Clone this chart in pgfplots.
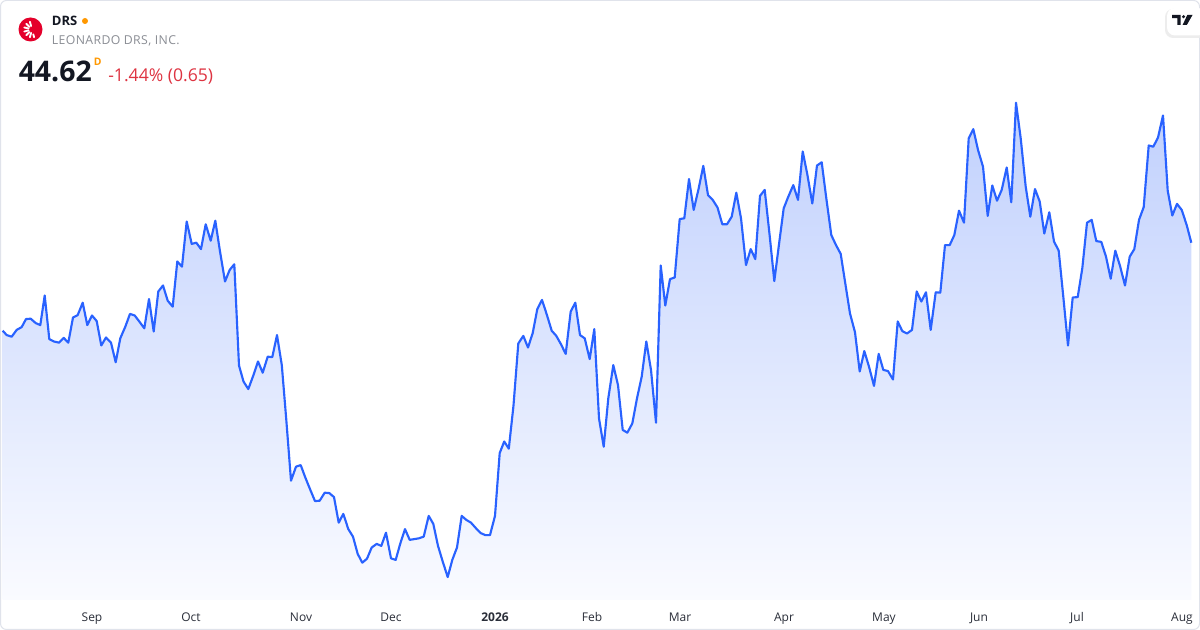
\documentclass[border=0pt]{standalone}
\usepackage{pgfplots}
\pgfplotsset{compat=1.18}
\usepackage{pgfplotstable}
\usetikzlibrary{calc}
\usepackage{fontspec}
\setmainfont{Open Sans}
\definecolor{tvblue}{HTML}{2962FF}
\definecolor{filltop}{RGB}{192,208,253}
\definecolor{fillbot}{RGB}{250,251,255}
\definecolor{bordercol}{HTML}{E0E3EB}
\definecolor{lbl}{HTML}{2A2E39}
\definecolor{subgray}{HTML}{8A8D94}
\definecolor{tvred}{HTML}{DE3341}
\definecolor{tvorange}{HTML}{FF9800}
\definecolor{logored}{HTML}{E4002B}
\definecolor{tvdark}{HTML}{131722}

\pgfplotstableread{
x p
2.7 35.69
2.7 42.42
6.7 42.31
11.7 42.27
16.7 42.44
21.7 42.51
26 42.71
30.7 42.72
35.7 42.61
40.3 42.56
44.7 43.30
49.3 42.21
54 42.15
59 42.12
63.7 42.24
68.3 42.12
73 42.75
77.7 42.81
82.7 43.12
87.3 42.56
92 42.80
96.7 42.66
101.3 42.05
106 42.25
111 42.12
115.7 41.63
120.3 42.23
125.3 42.52
130 42.84
134.7 42.80
139.3 42.65
144.3 42.48
149 43.21
153.7 42.40
158.3 43.40
163 43.55
167.7 43.17
172.7 43.02
177.3 44.15
182 44.02
186.7 45.15
191.7 44.59
196.3 44.62
201 44.46
205.7 45.08
210.7 44.67
215.3 45.17
220 44.40
225 43.65
229.7 43.94
234.3 44.08
239 41.55
243.5 41.15
248.3 40.96
253.3 41.30
258 41.65
262.7 41.37
267.7 41.77
272.3 41.76
277 42.31
281.8 41.56
286.3 40.19
291 38.67
296 39.02
300.7 39.06
305.3 38.75
310 38.46
315 38.16
319.7 38.17
324.7 38.37
329.3 38.36
334 38.26
338.7 37.62
343.3 37.84
348.3 37.46
353 37.27
357.7 36.84
362.3 36.62
367 36.72
371.7 37.00
376.7 37.09
381.3 37.04
386 37.37
391 36.73
395.7 36.69
400.3 37.10
405 37.46
409.7 37.19
414.3 37.21
419 37.23
423.7 37.27
428.7 37.79
433.3 37.59
438 37.04
442.7 36.65
447.7 36.26
452.3 36.69
457 37.00
461.7 37.79
466.3 37.69
471 37.62
476 37.48
480.7 37.36
485.3 37.31
490 37.31
495 37.79
499.7 39.36
504.2 39.65
508.8 39.47
513.5 40.55
518.3 42.10
523.3 42.29
528 42.00
532.7 42.36
537.3 42.96
542 43.19
546.7 42.83
551.7 42.42
556.3 42.29
561 42.08
565.7 41.84
570.7 42.90
575.3 43.12
580 42.31
584.7 42.23
589.7 41.71
594.3 42.46
599 40.23
603.7 39.52
608.3 40.73
613.3 41.56
618 41.06
622.7 39.94
627.3 39.87
632.3 40.10
637 40.73
641.7 41.27
646.3 42.15
651 41.44
656 40.12
660.7 44.05
665.3 43.05
670 43.71
674.7 43.75
679.7 45.21
684.3 45.23
689 46.21
693.7 45.44
698.7 45.98
703.3 46.54
708 45.81
712.7 45.69
717.5 45.50
722.3 45.08
727 45.08
731.7 45.27
736.3 45.87
741 45.23
746 44.06
750.7 44.46
755.3 44.21
760 45.79
764.7 45.94
769.7 44.79
774.3 43.66
779 44.58
783.7 45.48
788.3 45.77
793.3 46.06
798 45.69
802.7 46.90
807.3 46.33
812.3 45.60
817 46.55
821.7 46.63
826.3 45.73
831.3 44.81
836 44.56
840.7 44.34
845.3 43.60
850 42.85
855 42.38
859.7 41.40
864.3 41.91
869 41.52
874 41.04
878.7 41.84
883.3 41.44
888 41.41
893 41.20
897.7 42.65
902.3 42.41
907 42.35
912 42.44
916.7 43.40
921.3 43.15
926 43.38
930.7 42.44
935.7 43.38
940.3 43.37
945 44.56
949.7 44.56
954.3 44.81
959 45.42
964 45.12
968.7 47.23
973.3 47.46
978 46.94
983 46.52
987.7 45.29
992.3 46.05
997 45.67
1001.7 45.94
1006.7 46.50
1011.3 45.63
1016 48.12
1020.7 47.23
1025.7 46.02
1030.3 45.27
1035 45.96
1039.7 45.65
1044.3 44.85
1049.3 45.38
1054 44.65
1058.7 44.42
1063.3 43.27
1068 42.05
1072.7 43.25
1077.7 43.26
1082.3 43.98
1087 45.12
1091.7 45.19
1096.3 44.66
1101.3 44.64
1106 44.27
1110.7 43.72
1115.3 44.42
1120 44.04
1125 43.55
1129.7 44.27
1134.3 44.46
1139 45.19
1143.7 45.51
1148.7 47.05
1153.3 47.02
1158 47.25
1163 47.80
1167.7 45.92
1172.3 45.30
1177 45.59
1181.7 45.44
1186.7 45.06
1191.3 44.62
1191.3 35.69
}\pricedata

\begin{document}
\begin{tikzpicture}
\path[use as bounding box] (0pt,0pt) rectangle (900pt,472.5pt);
\fill[white] (0pt,0pt) rectangle (900pt,472.5pt);
\begin{axis}[
  at={(0pt,22.5pt)}, anchor=south west,
  scale only axis, width=900pt, height=450pt,
  xmin=0, xmax=1200, ymin=35.6875, ymax=50.6875,
  axis line style={draw=none},
  ytick=\empty,
  xtick={92,191,301,391,495,592,680,784,884,979,1077,1182},
  xticklabels={Sep,Oct,Nov,Dec,\textbf{2026},Feb,Mar,Apr,May,Jun,Jul,Aug},
  major tick length=0pt,
  xticklabel style={anchor=base, yshift=-15.9pt, font=\fontsize{9}{10}\selectfont, text=lbl},
]
\addplot[draw=none, top color=filltop, bottom color=fillbot] table[x=x,y=p]{\pricedata};
\addplot[tvblue, line width=1.6pt, line join=round, mark=none, unbounded coords=discard,
  y filter/.expression={y<36 ? nan : y}] table[x=x,y=p]{\pricedata};
\end{axis}
\begin{scope}[x=0.75pt, y=-0.75pt, shift={(0pt,472.5pt)}]
  \draw[bordercol, line width=0.75pt, rounded corners=4.5pt] (0.5,0.5) rectangle (1199.5,629.5);
  % logo
  \fill[logored] (30.5,29.5) circle (12);
  \foreach \a in {105,135,165,195,225,255} {
    \draw[white, line width=1.4pt, line cap=round] ($(32,29.5)+(\a:3.5)$) -- ($(32,29.5)+(\a:8)$);
  }
  \draw[white, line width=1.4pt, line cap=round] ($(32,29.5)+(75:5)$) -- ($(32,29.5)+(75:8)$);
  \node[anchor=base west, inner sep=0pt, font=\bfseries\fontsize{9.75}{11}\selectfont, text=tvdark] at (51.7,26) {DRS};
  \fill[tvorange] (85,21) circle (3);
  \node[anchor=base west, inner sep=0pt, font=\fontsize{9.2}{11}\selectfont\addfontfeature{LetterSpace=3}, text=subgray] at (51.7,45) {LEONARDO DRS, INC.};
  \node[anchor=base west, inner sep=0pt, font=\bfseries\fontsize{21.3}{23}\selectfont, text=tvdark] at (18.5,81.5) {44.62};
  \node[anchor=base west, inner sep=0pt, font=\bfseries\fontsize{7.8}{8}\selectfont, text=tvorange] at (93.5,65.5) {D};
  \node[anchor=base west, inner sep=0pt, font=\fontsize{13.2}{15}\selectfont, text=tvred] at (108,81.5) {-1.44\% (0.65)};
  % TV logo box
  \fill[black!7, rounded corners=6pt] (1165,9) rectangle (1206,38);
  \fill[white, rounded corners=6pt] (1167,8) rectangle (1206,35.5);
  \fill[tvdark] (1172,15) -- (1180.5,15) -- (1180.5,25) -- (1177.3,25) -- (1177.3,18.2) -- (1172,18.2) -- cycle;
  \fill[tvdark] (1183.6,16.7) circle (1.7);
  \fill[tvdark] (1187.3,15) -- (1192.5,15) -- (1186.8,25) -- (1182.6,25) -- cycle;
\end{scope}
\end{tikzpicture}
\end{document}
